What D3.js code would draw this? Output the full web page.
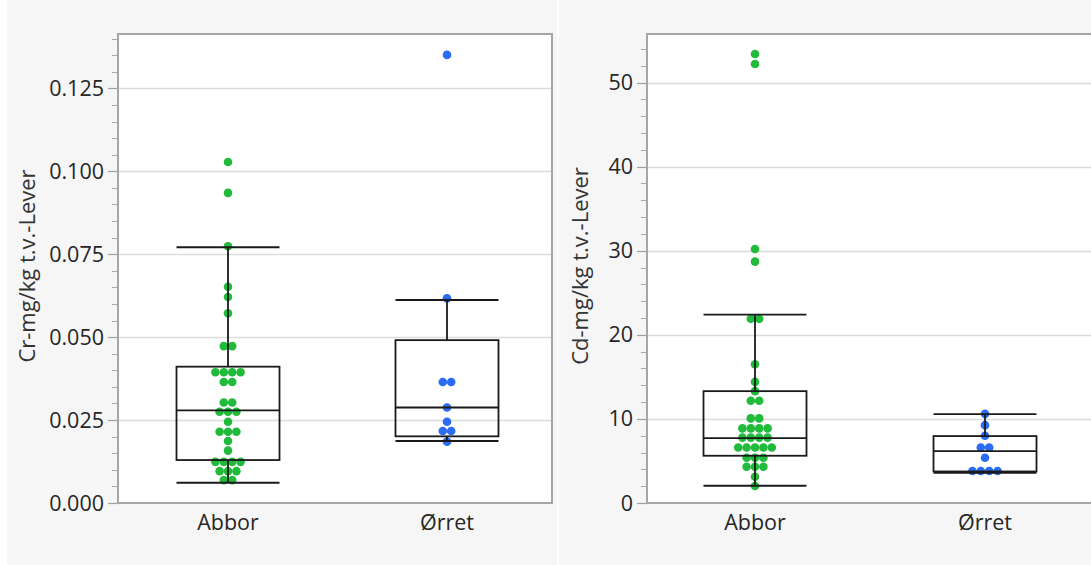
<!DOCTYPE html>
<html>
<head>
<meta charset="utf-8">
<script src="https://cdn.jsdelivr.net/npm/d3@7"></script>
<style>
  html, body { margin: 0; padding: 0; background: #ffffff; }
  svg { display: block; }
  text { font-family: "Open Sans", "Noto Sans", sans-serif; }
</style>
</head>
<body>
<svg id="chart" width="1091" height="565"></svg>
<script>
// ---------------- DATA ----------------
const categories = ["Abbor", "Ørret"];

// Cr (mg/kg t.v., Lever) – individual points
const crAbbor = [0.1028, 0.0935, 0.0774, 0.0652, 0.0621, 0.0572,
  0.0473, 0.0473, 0.0394, 0.0394, 0.0394, 0.0394, 0.0365, 0.0365,
  0.0303, 0.0303, 0.0275, 0.0275, 0.0275, 0.0245, 0.0215, 0.0215, 0.0215,
  0.0187, 0.0158, 0.0124, 0.0124, 0.0124, 0.0124, 0.0096, 0.0096, 0.0096,
  0.0069, 0.0069];
const crOrret = [0.1351, 0.0617, 0.0365, 0.0365, 0.0288, 0.0245, 0.0217, 0.0217, 0.0185];

// Cd (mg/kg t.v., Lever) – individual points
const cdAbbor = [53.4, 52.2, 30.2, 28.7, 21.9, 21.9, 16.5, 14.4, 13.3,
  12.15, 12.15, 10.06, 10.06, 8.87, 8.87, 8.87, 8.87, 7.77, 7.77, 7.77, 7.77,
  6.6, 6.6, 6.6, 6.6, 6.6, 5.38, 5.38, 5.38, 4.31, 4.31, 4.31, 3.12, 2.02];
const cdOrret = [10.6, 9.26, 8.0, 6.6, 6.6, 5.38, 3.8, 3.8, 3.8, 3.8];

// Box statistics: [lower whisker, Q1, median, Q3, upper whisker]
const crBoxAbbor = [0.0061, 0.01295, 0.0279, 0.0411, 0.0771];
const crBoxOrret = [0.0187, 0.0201, 0.0288, 0.0491, 0.0612];
const cdBoxAbbor = [2.05, 5.62, 7.72, 13.3, 22.4];
const cdBoxOrret = [3.6, 3.75, 6.18, 7.96, 10.57];

// Tick labels
const crTicks = [0, 0.025, 0.05, 0.075, 0.1, 0.125];
const crMinorTicks = d3.range(0, 0.1401, 0.005);
const cdTicks = [0, 10, 20, 30, 40, 50];
const cdMinorTicks = d3.range(0, 54.01, 2);

const crTitle = "Cr-mg/kg t.v.-Lever";
const cdTitle = "Cd-mg/kg t.v.-Lever";

// ---------------- DRAW ----------------
const svg = d3.select("#chart");
const green = "#20bb3b", blue = "#2b6cf5";

// background panels
svg.append("rect").attr("x", 7).attr("y", 0).attr("width", 550).attr("height", 565).attr("fill", "#f6f6f6");
svg.append("rect").attr("x", 559).attr("y", 0).attr("width", 532).attr("height", 565).attr("fill", "#f6f6f6");

function drawPanel(o) {
  const g = svg.append("g");
  const y = d3.scaleLinear().domain(o.domain).range([503, 34]);
  const x = d3.scalePoint().domain(categories).range(o.xRange);

  // plot area
  g.append("rect").attr("x", o.left).attr("y", 34).attr("width", o.right - o.left).attr("height", 503 - 34)
    .attr("fill", "#ffffff");

  // grid
  g.selectAll(".grid").data(o.ticks.filter(d => d > 0)).join("line")
    .attr("x1", o.left).attr("x2", o.right)
    .attr("y1", d => Math.round(y(d)) + 0.5).attr("y2", d => Math.round(y(d)) + 0.5)
    .attr("stroke", "#dcdcdc").attr("stroke-width", 1.5);

  // minor ticks
  g.selectAll(".minor").data(o.minor).join("line")
    .attr("x1", o.left - 6).attr("x2", o.left)
    .attr("y1", d => Math.round(y(d)) + 0.5).attr("y2", d => Math.round(y(d)) + 0.5)
    .attr("stroke", "#a8a8a8").attr("stroke-width", 1);

  // major ticks
  g.selectAll(".major").data(o.ticks).join("line")
    .attr("x1", o.left - 10).attr("x2", o.left)
    .attr("y1", d => Math.round(y(d)) + 0.5).attr("y2", d => Math.round(y(d)) + 0.5)
    .attr("stroke", "#a0a0a0").attr("stroke-width", 1.2);

  g.selectAll(".tl").data(o.ticks).join("text")
    .attr("x", o.left - 14).attr("y", d => y(d))
    .attr("dy", "0.35em").attr("text-anchor", "end")
    .attr("font-size", 21.5).attr("fill", "#262626")
    .text(o.fmt);

  // frame
  g.append("path")
    .attr("d", `M${o.left},503 L${o.left},34 L${o.right},34 L${o.right},503 Z`)
    .attr("fill", "none").attr("stroke", "#a6a6a6").attr("stroke-width", 2);

  // axis title
  g.append("text")
    .attr("transform", `translate(${o.titleX},266) rotate(-90)`)
    .attr("text-anchor", "middle").attr("dy", "0.35em")
    .attr("font-size", 22).attr("fill", "#333333")
    .text(o.title);

  // x labels
  g.selectAll(".xl").data(categories).join("text")
    .attr("x", d => x(d)).attr("y", 530)
    .attr("text-anchor", "middle").attr("font-size", 21.5).attr("fill", "#262626")
    .text(d => d);

  // dots (beeswarm rows for equal values)
  const sets = [[categories[0], o.pts[0], green], [categories[1], o.pts[1], blue]];
  const spacing = 8.4;
  sets.forEach(([cat, vals, col]) => {
    const counts = d3.rollup(vals, v => v.length, d => d);
    const seen = new Map();
    const pts = vals.map(v => {
      const n = counts.get(v);
      const i = seen.get(v) || 0;
      seen.set(v, i + 1);
      return { v, off: (i - (n - 1) / 2) * spacing };
    });
    g.selectAll(null).data(pts).join("circle")
      .attr("cx", d => x(cat) + d.off).attr("cy", d => y(d.v))
      .attr("r", 4.3).attr("fill", col);
  });

  // boxes
  const bw = 103;
  [[categories[0], o.box[0]], [categories[1], o.box[1]]].forEach(([cat, b]) => {
    const cx = x(cat);
    const bg = g.append("g").attr("stroke", "#1a1a1a").attr("stroke-width", 1.8).attr("fill", "none");
    bg.append("line").attr("x1", cx).attr("x2", cx).attr("y1", y(b[0])).attr("y2", y(b[1]));
    bg.append("line").attr("x1", cx).attr("x2", cx).attr("y1", y(b[3])).attr("y2", y(b[4]));
    bg.append("line").attr("x1", cx - bw / 2).attr("x2", cx + bw / 2).attr("y1", y(b[0])).attr("y2", y(b[0]));
    bg.append("line").attr("x1", cx - bw / 2).attr("x2", cx + bw / 2).attr("y1", y(b[4])).attr("y2", y(b[4]));
    bg.append("rect").attr("x", cx - bw / 2).attr("y", y(b[3])).attr("width", bw).attr("height", y(b[1]) - y(b[3]));
    bg.append("line").attr("x1", cx - bw / 2).attr("x2", cx + bw / 2).attr("y1", y(b[2])).attr("y2", y(b[2]));
  });
}

drawPanel({
  domain: [0, 0.1414], left: 118, right: 552, xRange: [228, 447],
  ticks: crTicks, minor: crMinorTicks, fmt: d3.format(".3f"),
  title: crTitle, titleX: 27,
  pts: [crAbbor, crOrret], box: [crBoxAbbor, crBoxOrret]
});
drawPanel({
  domain: [0, 55.77], left: 647, right: 1095, xRange: [755, 985],
  ticks: cdTicks, minor: cdMinorTicks, fmt: d3.format("d"),
  title: cdTitle, titleX: 580,
  pts: [cdAbbor, cdOrret], box: [cdBoxAbbor, cdBoxOrret]
});
</script>
</body>
</html>
